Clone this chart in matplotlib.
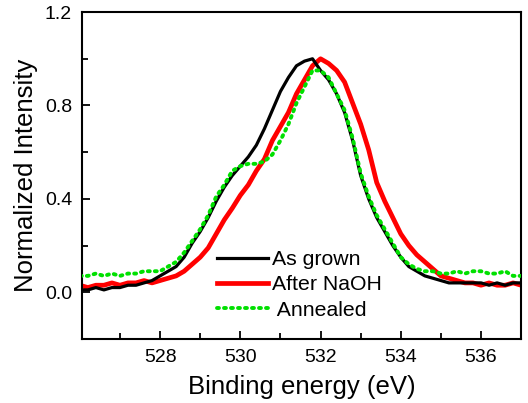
import numpy as np
import matplotlib.pyplot as plt
from matplotlib.ticker import MultipleLocator

plt.rcParams['font.family'] = ['Liberation Sans', 'DejaVu Sans']

# binding energy grid (eV)
energy = [526.0, 526.2, 526.4, 526.6, 526.8, 527.0, 527.2, 527.4, 527.6, 527.8,
          528.0, 528.2, 528.4, 528.6, 528.8, 529.0, 529.2, 529.4, 529.6, 529.8,
          530.0, 530.2, 530.4, 530.6, 530.8, 531.0, 531.2, 531.4, 531.6, 531.8,
          532.0, 532.2, 532.4, 532.6, 532.8, 533.0, 533.2, 533.4, 533.6, 533.8,
          534.0, 534.2, 534.4, 534.6, 534.8, 535.0, 535.2, 535.4, 535.6, 535.8,
          536.0, 536.2, 536.4, 536.6, 536.8, 537.0]

as_grown = [0.01, 0.01, 0.02, 0.01, 0.02, 0.02, 0.03, 0.03, 0.04, 0.05,
            0.07, 0.09, 0.11, 0.15, 0.21, 0.26, 0.32, 0.39, 0.45, 0.50,
            0.54, 0.58, 0.63, 0.70, 0.78, 0.86, 0.92, 0.97, 0.99, 1.00,
            0.95, 0.91, 0.85, 0.77, 0.65, 0.50, 0.40, 0.32, 0.26, 0.20,
            0.15, 0.11, 0.09, 0.07, 0.06, 0.05, 0.04, 0.04, 0.04, 0.04,
            0.04, 0.03, 0.04, 0.03, 0.04, 0.04]

after_naoh = [0.03, 0.02, 0.03, 0.03, 0.04, 0.03, 0.04, 0.04, 0.05, 0.04,
              0.05, 0.06, 0.07, 0.09, 0.12, 0.15, 0.19, 0.25, 0.31, 0.36,
              0.415, 0.46, 0.52, 0.57, 0.65, 0.71, 0.77, 0.85, 0.91, 0.97,
              1.00, 0.98, 0.95, 0.90, 0.81, 0.72, 0.61, 0.47, 0.39, 0.32,
              0.25, 0.20, 0.16, 0.13, 0.10, 0.07, 0.06, 0.05, 0.04, 0.04,
              0.03, 0.04, 0.03, 0.03, 0.04, 0.03]

annealed = [0.07, 0.07, 0.08, 0.07, 0.08, 0.07, 0.08, 0.08, 0.09, 0.09,
            0.09, 0.11, 0.13, 0.17, 0.22, 0.27, 0.33, 0.41, 0.46, 0.52,
            0.54, 0.55, 0.55, 0.56, 0.59, 0.65, 0.72, 0.81, 0.88, 0.95,
            0.95, 0.92, 0.85, 0.78, 0.66, 0.51, 0.41, 0.33, 0.27, 0.21,
            0.15, 0.12, 0.10, 0.09, 0.09, 0.08, 0.08, 0.09, 0.08, 0.09,
            0.09, 0.08, 0.08, 0.09, 0.07, 0.07]

fig = plt.figure(figsize=(5.28, 4.03), dpi=100)
ax = fig.add_axes([0.155, 0.159, 0.832, 0.811])

ax.plot(energy, as_grown, color='black', lw=2.3, label='As grown', zorder=3)
ax.plot(energy, after_naoh, color='#ff0000', lw=3.4, label='After NaOH', zorder=2)
ax.plot(energy, annealed, color='#00e000', lw=2.8, ls=(0, (0.5, 1.3)),
        dash_capstyle='round', label=' Annealed', zorder=4)

ax.set_xlim(526.05, 537.0)
ax.set_ylim(-0.2, 1.2)
ax.xaxis.set_major_locator(MultipleLocator(2))
ax.xaxis.set_minor_locator(MultipleLocator(1))
ax.yaxis.set_major_locator(MultipleLocator(0.4))
ax.yaxis.set_minor_locator(MultipleLocator(0.2))
ax.yaxis.set_major_formatter(plt.FormatStrFormatter('%.1f'))
ax.tick_params(which='both', direction='in', width=1.3, labelsize=14,
               top=False, right=False)
ax.tick_params(which='major', length=6, pad=7)
ax.tick_params(which='minor', length=4)
for s in ax.spines.values():
    s.set_linewidth(1.5)

ax.set_xlabel('Binding energy (eV)', fontsize=18.5, labelpad=7)
ax.set_ylabel('Normalized Intensity', fontsize=18.5, labelpad=5)

ax.legend(loc='lower left', bbox_to_anchor=(0.265, 0.0), frameon=False,
          fontsize=15.3, handlelength=2.4, handletextpad=0.15,
          labelspacing=0.3)

fig.savefig('out.png', dpi=100)
